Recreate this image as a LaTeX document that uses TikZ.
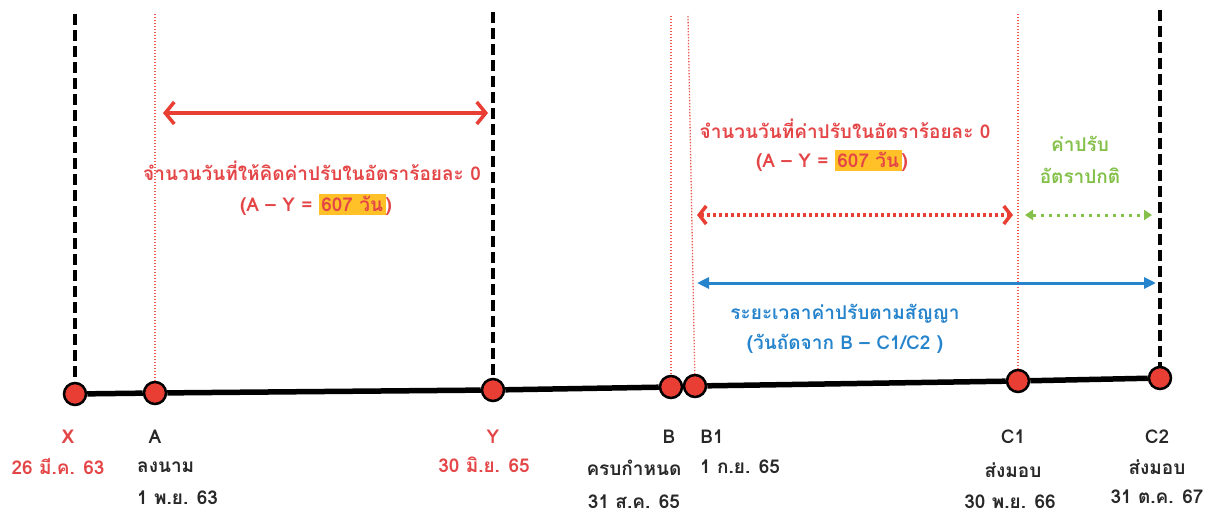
\documentclass[tikz,border=0pt]{standalone}
\usepackage{fontspec}
\newfontfamily\thai[Script=Thai]{Loma}
\usepackage{tikz}
\usetikzlibrary{arrows.meta,positioning,backgrounds}
\definecolor{penred}{RGB}{232,62,52}
\definecolor{txtred}{RGB}{228,70,72}
\definecolor{penblue}{RGB}{38,132,204}
\definecolor{pengreen}{RGB}{132,192,74}
\definecolor{hilite}{RGB}{255,192,40}
\definecolor{ink}{RGB}{40,40,40}
\setlength{\fboxsep}{2.5pt}

\begin{document}
\begin{tikzpicture}[
    x=1pt, y=-1pt,
    evt/.style={circle, draw=black, line width=2.5pt, fill=penred, minimum size=22pt, inner sep=0pt},
    bound/.style={black, line width=3.5pt, dash pattern=on 11pt off 5pt},
    guide/.style={penred!85, line width=1.3pt, dash pattern=on 1.3pt off 1.7pt},
    lbl/.style={font=\thai\bfseries\fontsize{19}{23}\selectfont, text=ink, inner sep=1pt},
    redlbl/.style={lbl, text=txtred},
    arrow/.style={<->, line width=3.5pt}
]
\useasboundingbox (0,0) rectangle (1217,519);

% events on the time line
\node[evt] (X) at (75,394) {};
\node[evt] (A) at (155,393) {};
\node[evt] (Y) at (493,390) {};
\node[evt] (B) at (671,387) {};
\node[evt] (B1) at (695,386) {};
\node[evt] (C1) at (1018,381) {};
\node[evt] (C2) at (1160,378) {};
\begin{scope}[on background layer]
    \draw[line width=5.5pt] (X) -- (A) -- (Y) -- (B) -- (B1) -- (C1) -- (C2);
\end{scope}

% vertical marks
\coordinate (topX) at (75,14);
\coordinate (topA) at (155,14);
\coordinate (topY) at (493,12);
\coordinate (topB) at (671,16);
\coordinate (topB1) at (688,16);
\coordinate (topC1) at (1018,14);
\coordinate (topC2) at (1160,10);
\draw[bound] (topX) -- (X);
\draw[bound] (topY) -- (Y);
\draw[bound] (topC2) -- (C2);
\draw[guide] (topA) -- (A);
\draw[guide] (topB) -- (B);
\draw[guide] (topB1) -- (B1);
\draw[guide] (topC1) -- (C1);

% 1. A - Y
\coordinate (r1) at (163,113);
\coordinate (r2) at (488,113);
\draw[arrow, penred, arrows={Straight Barb[length=9pt,width=22pt]-Straight Barb[length=9pt,width=22pt]}] (r1) -- (r2);
\node[redlbl] (t1) at (312,171) {จำนวนวันที่ให้คิดค่าปรับในอัตราร้อยละ 0};
\node[redlbl] (t1b) at (316,205) {(A – Y = \colorbox{hilite}{607 วัน})};

% 2. B1 - C1 - C2
\node[redlbl] (t2) at (845,129) {จำนวนวันที่ค่าปรับในอัตราร้อยละ 0};
\node[redlbl] (t2b) at (832,161) {(A – Y = \colorbox{hilite}{607 วัน})};
\node[lbl, text=pengreen] (g1) at (1080,144) {ค่าปรับ};
\node[lbl, text=pengreen] (g2) at (1080,176) {อัตราปกติ};
\coordinate (d1) at (697,215);
\coordinate (d2) at (1013,215);
\coordinate (d3) at (1025,215);
\coordinate (d4) at (1152,215);
\draw[arrow, penred, dash pattern=on 3pt off 3pt, arrows={Straight Barb[length=7pt,width=18pt]-Straight Barb[length=7pt,width=18pt]}] (d1) -- (d2);
\draw[arrow, pengreen, line width=3pt, dash pattern=on 3pt off 5pt, arrows={Triangle[length=8pt,width=10pt]-Triangle[length=8pt,width=10pt]}] (d3) -- (d4);
\coordinate (b1) at (697,283);
\coordinate (b2) at (1156,283);
\draw[arrow, penblue, line width=3pt, arrows={Triangle[length=12pt,width=11pt]-Triangle[length=12pt,width=11pt]}] (b1) -- (b2);
\node[lbl, text=penblue] (t3) at (845,314) {ระยะเวลาค่าปรับตามสัญญา};
\node[lbl, text=penblue] (t3b) at (845,344) {(วันถัดจาก B – C1/C2 )};

% labels below
\node[redlbl] (lX) at (68,437) {X};
\node[redlbl] (dX) at (58,467) {26 มี.ค. 63};
\node[lbl] (lA) at (155,437) {A};
\node[lbl, anchor=west] (nA) at (136,467) {ลงนาม};
\node[lbl, anchor=west] (dA) at (136,498) {1 พ.ย. 63};
\node[redlbl] (lY) at (493,437) {Y};
\node[redlbl] (dY) at (484,465) {30 มิ.ย. 65};
\node[lbl] (lB) at (669,437) {B};
\node[lbl] (nB) at (634,468) {ครบกำหนด};
\node[lbl] (dB) at (634,502) {31 ส.ค. 65};
\node[lbl] (lB1) at (712,437) {B1};
\node[lbl, anchor=west] (dB1) at (699,467) {1 ก.ย. 65};
\node[lbl] (lC1) at (1013,437) {C1};
\node[lbl] (nC1) at (1013,470) {ส่งมอบ};
\node[lbl] (dC1) at (1010,502) {30 พ.ย. 66};
\node[lbl] (lC2) at (1157,437) {C2};
\node[lbl] (nC2) at (1157,467) {ส่งมอบ};
\node[lbl] (dC2) at (1157,497) {31 ต.ค. 67};
\end{tikzpicture}
\end{document}
